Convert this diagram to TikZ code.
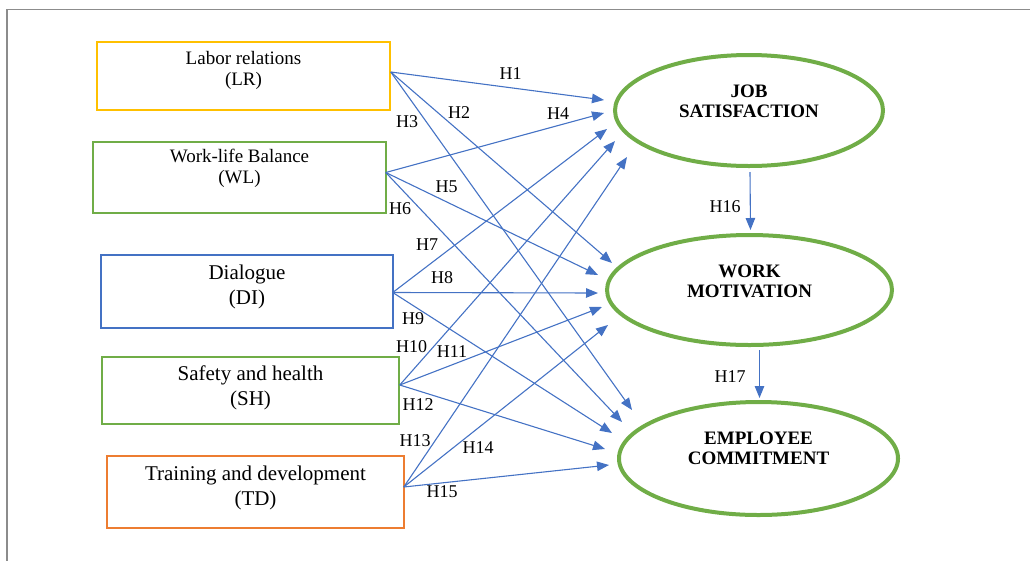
\documentclass[tikz,border=0pt]{standalone}
\usepackage{fontspec}
\setmainfont{Liberation Serif}
\usetikzlibrary{shapes.geometric,arrows.meta,calc}
\definecolor{cyel}{HTML}{FFC000}
\definecolor{cgrn}{HTML}{70AD47}
\definecolor{cblu}{HTML}{4472C4}
\definecolor{corg}{HTML}{ED7D31}
\definecolor{cfrm}{HTML}{8C8C8C}
\begin{document}
\begin{tikzpicture}[x=1pt,y=-1pt,
  srcbox/.style={draw,line width=1.5pt,inner sep=0pt,rectangle},
  smalltxt/.style={font=\fontsize{19}{21}\selectfont,align=center,inner sep=0pt},
  bigtxt/.style={font=\fontsize{21}{25}\selectfont,align=center,inner sep=0pt},
  construct/.style={draw=cgrn,line width=4pt,ellipse,inner sep=0pt},
  ctxt/.style={font=\fontsize{19}{20}\selectfont\bfseries,align=center,inner sep=0pt},
  hyp/.style={draw=cblu,line width=1.1pt,-{Triangle[length=12pt,width=9.5pt]}},
  hlab/.style={font=\fontsize{18}{20}\selectfont,inner sep=0pt}]
\useasboundingbox (0,0) rectangle (1030,560);
\draw[cfrm,line width=1.6pt] (1035,9.5) -- (7,9.5) -- (7,565);

% source boxes
\node[srcbox,draw=cyel,minimum width=293pt,minimum height=68pt] (LR) at (243.5,76) {};
\node[smalltxt] (LRt) at (243.5,70) {Labor relations\\(LR)};
\node[srcbox,draw=cgrn,minimum width=293pt,minimum height=71pt] (WL) at (239.5,177.5) {};
\node[smalltxt] (WLt) at (239.5,168.5) {Work-life Balance\\(WL)};
\node[srcbox,draw=cblu,minimum width=292pt,minimum height=73pt] (DI) at (247,291.5) {};
\node[bigtxt] (DIt) at (247,287) {Dialogue\\(DI)};
\node[srcbox,draw=cgrn,minimum width=297pt,minimum height=67pt] (SH) at (250.5,390.5) {};
\node[bigtxt] (SHt) at (250.5,388) {Safety and health\\(SH)};
\node[srcbox,draw=corg,minimum width=297pt,minimum height=72pt] (TD) at (255.5,492) {};
\node[bigtxt] (TDt) at (255.5,488) {Training and development\\(TD)};

% constructs
\node[construct,minimum width=268pt,minimum height=111pt] (JS) at (749,110.5) {};
\node[ctxt] (JSt) at (749,101) {JOB\\SATISFACTION};
\node[construct,minimum width=285pt,minimum height=110pt] (WM) at (749.5,290) {};
\node[ctxt] (WMt) at (749.5,281) {WORK\\MOTIVATION};
\node[construct,minimum width=279pt,minimum height=113pt] (EC) at (758.5,458.5) {};
\node[ctxt] (ECt) at (758.5,448) {EMPLOYEE\\COMMITMENT};

% origins
\coordinate (oLR) at ($(LR.east)+(0,-4)$);
\coordinate (oWL) at ($(WL.east)+(-1,-5)$);
\coordinate (oDI) at ($(DI.east)+(-1,1)$);
\coordinate (oSH) at ($(SH.east)+(0,-5.5)$);
\coordinate (oTD) at ($(TD.east)+(-1,-5)$);

% tips
\coordinate (j1) at (604,100);
\coordinate (j4) at (604,113);
\coordinate (j7) at (607,129);
\coordinate (j10) at (615,141);
\coordinate (j13) at (627,157);
\coordinate (w2) at (612,263);
\coordinate (w5) at (598,275);
\coordinate (w8) at (598,293);
\coordinate (w11) at (602,307);
\coordinate (w14) at (608,325);
\coordinate (e3) at (632,410);
\coordinate (e6) at (622,422);
\coordinate (e9) at (612,433);
\coordinate (e12) at (605,449);
\coordinate (e15) at (609,465);

\draw[hyp] (oLR) -- (j1);
\draw[hyp] (oLR) -- (w2);
\draw[hyp] (oLR) -- (e3);
\draw[hyp] (oWL) -- (j4);
\draw[hyp] (oWL) -- (w5);
\draw[hyp] (oWL) -- (e6);
\draw[hyp] (oDI) -- (j7);
\draw[hyp] (oDI) -- (w8);
\draw[hyp] (oDI) -- (e9);
\draw[hyp] (oSH) -- (j10);
\draw[hyp] (oSH) -- (w11);
\draw[hyp] (oSH) -- (e12);
\draw[hyp] (oTD) -- (j13);
\draw[hyp] (oTD) -- (w14);
\draw[hyp] (oTD) -- (e15);

\draw[hyp] ($(JS.south)+(1,4)$) -- ($(WM.north)+(1,-3)$);
\draw[hyp] ($(WM.south)+(10,3)$) -- ($(EC.north)+(1,-2)$);

% labels
\node[hlab] at (510.5,73.5) {H1};
\node[hlab] at (459,113) {H2};
\node[hlab] at (407,122) {H3};
\node[hlab] at (558,114) {H4};
\node[hlab] at (446.5,187) {H5};
\node[hlab] at (400,209) {H6};
\node[hlab] at (427,245) {H7};
\node[hlab] at (442,277.5) {H8};
\node[hlab] at (413,319) {H9};
\node[hlab] at (411.5,347) {H10};
\node[hlab] at (452,351.5) {H11};
\node[hlab] at (418,405) {H12};
\node[hlab] at (415,441) {H13};
\node[hlab] at (478,448) {H14};
\node[hlab] at (442,491.5) {H15};
\node[hlab] at (725,207) {H16};
\node[hlab] at (730,377) {H17};
\end{tikzpicture}
\end{document}
